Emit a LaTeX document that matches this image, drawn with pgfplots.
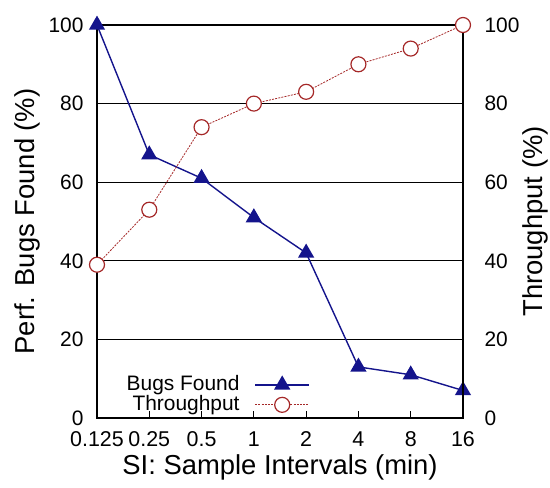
\documentclass[border=0pt]{standalone}
\usepackage{pgfplots}
\pgfplotsset{compat=1.18}
\usepackage{fontspec}
\setmainfont{Liberation Sans}
\definecolor{bugblue}{RGB}{20,20,140}
\definecolor{tpred}{RGB}{165,40,40}

% Sample intervals are plotted at positions 0..7 (0.125 ... 16 min)
\pgfplotstableread{
pos bugs
0 100
1 67
2 61
3 51
4 42
5 13
6 11
7 7
}\bugstable
\pgfplotstableread{
pos thr
0 39
1 53
2 74
3 80
4 83
5 90
6 94
7 100
}\thrtable

\begin{document}
\begin{tikzpicture}
\pgfplotsset{
  common/.style={
    width=366bp, height=393bp, scale only axis,
    at={(0,0)}, anchor=south west,
    xmin=0, xmax=7, ymin=0, ymax=100,
    ytick={0,20,...,100},
    tick label style={font=\fontsize{21}{21}\selectfont},
    label style={font=\fontsize{27.5}{27.5}\selectfont},
    /pgf/number format/assume math mode=true,
    axis line style={line width=1.6bp},
  },
  bugstyle/.style={bugblue, line width=1.4bp, mark=triangle*, mark size=8bp,
    mark options={solid, fill=bugblue}},
  thrstyle/.style={tpred, line width=0.8bp, dash pattern=on 2bp off 1.2bp,
    mark=*, mark size=7.5bp, mark options={solid, fill=white, draw=tpred, line width=1.2bp}},
}
% overall page extent
\path[use as bounding box] (-97bp,-70bp) rectangle (453bp,418bp);
\begin{axis}[common,
  xtick={0,...,7},
  xticklabels={0.125,0.25,0.5,1,2,4,8,16},
  xtick pos=bottom, xtick align=inside,
  major x tick style={line width=1.2bp, black},
  major tick length=7bp,
  ytick pos=left, major y tick style={draw=none},
  ymajorgrids, grid style={black, line width=1.2bp},
  xlabel={SI: Sample Intervals (min)},
  ylabel={Perf. Bugs Found (\%)},
  xlabel style={at={(axis description cs:0.5,-0.127)}, anchor=center},
  ylabel style={at={(axis description cs:-0.189,0.5)}, anchor=center},
  yticklabel style={xshift=-10bp},
  xticklabel style={yshift=-10bp, font=\fontsize{21.5}{21.5}\selectfont},
  legend style={draw=none, fill=none, at={(rel axis cs:0.585,0.005)}, anchor=south east,
    font=\fontsize{21}{21}\selectfont, legend cell align=right,
    row sep=0bp, inner sep=1bp,
    nodes={inner sep=1bp, text height=14.5bp, text depth=3.5bp}},
  legend plot pos=right,
  % sample line with a gap before it
  legend image code/.code={\path (0bp,0bp);
    \draw[mark repeat=2,mark phase=2,#1]
    plot coordinates {(14bp,0bp) (41bp,0bp) (68bp,0bp)};},
]
\addplot[bugstyle] table[x=pos, y=bugs] {\bugstable};
\addlegendentry{Bugs Found}
\addlegendimage{thrstyle}
\addlegendentry{Throughput}
\end{axis}
\begin{axis}[common,
  axis x line=none, axis y line*=right,
  major y tick style={draw=none},
  ylabel={Throughput (\%)},
  ylabel style={at={(axis description cs:1.197,0.5)}, anchor=center},
  yticklabel style={xshift=18bp},
]
\addplot[thrstyle] table[x=pos, y=thr] {\thrtable};
\end{axis}
\end{tikzpicture}
\end{document}
